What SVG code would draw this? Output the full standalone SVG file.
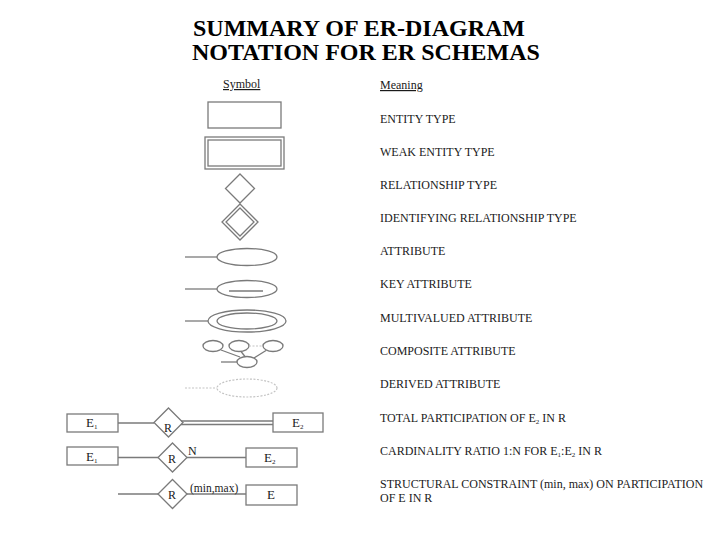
<svg xmlns="http://www.w3.org/2000/svg" width="728" height="546" viewBox="0 0 728 546">
<style>
.s{fill:none;stroke:#7a7a7a;stroke-width:1.3}
.d{fill:none;stroke:#c4c4c4;stroke-width:1.2;stroke-dasharray:2 1.5}
.t{font-family:"Liberation Serif","Times New Roman",serif;fill:#1a1a1a;font-size:12px}
.h{font-family:"Liberation Serif","Times New Roman",serif;fill:#000;font-size:24px;font-weight:bold}
.u{text-decoration:underline}
.e{font-family:"Liberation Serif","Times New Roman",serif;fill:#1a1a1a;font-size:13px}
.sb{font-size:7px}
</style>
<rect width="728" height="546" fill="#fff"/>
<g id="title">
<text class="h" x="193" y="36">SUMMARY OF ER-DIAGRAM</text>
<text class="h" x="192" y="60">NOTATION FOR ER SCHEMAS</text>
</g>
<g id="headers">
<text class="t u" x="223" y="88">Symbol</text>
<text class="t u" x="380" y="89">Meaning</text>
</g>
<g id="meanings">
<text class="t" x="380" y="123">ENTITY TYPE</text>
<text class="t" x="380" y="156">WEAK ENTITY TYPE</text>
<text class="t" x="380" y="189">RELATIONSHIP TYPE</text>
<text class="t" x="380" y="222">IDENTIFYING RELATIONSHIP TYPE</text>
<text class="t" x="380" y="255">ATTRIBUTE</text>
<text class="t" x="380" y="288">KEY ATTRIBUTE</text>
<text class="t" x="380" y="322">MULTIVALUED ATTRIBUTE</text>
<text class="t" x="380" y="355">COMPOSITE ATTRIBUTE</text>
<text class="t" x="380" y="388">DERIVED ATTRIBUTE</text>
<text class="t" x="380" y="422">TOTAL PARTICIPATION OF E<tspan class="sb" dy="2">2</tspan><tspan dy="-2"> IN R</tspan></text>
<text class="t" x="380" y="455">CARDINALITY RATIO 1:N FOR E<tspan class="sb" dy="2">1</tspan><tspan dy="-2">:E</tspan><tspan class="sb" dy="2">2</tspan><tspan dy="-2"> IN R</tspan></text>
<text class="t" x="380" y="488">STRUCTURAL CONSTRAINT (min, max) ON PARTICIPATION</text>
<text class="t" x="380" y="502">OF E IN R</text>
</g>
<g id="entity"><rect class="s" x="208" y="102" width="73" height="26"/></g>
<g id="weak-entity">
<rect class="s" x="205" y="137" width="79" height="32"/>
<rect class="s" x="208" y="140" width="73" height="26"/>
</g>
<g id="relationship"><polygon class="s" points="240,174 254.5,188.5 240,203 225.5,188.5"/></g>
<g id="identifying-relationship">
<polygon class="s" points="240,204 258,222 240,240 222,222"/>
<polygon class="s" points="240,208 254,222 240,236 226,222"/>
</g>
<g id="attribute"><ellipse class="s" cx="247" cy="257" rx="30" ry="8.5"/></g>
<g id="key-attribute">
<ellipse class="s" cx="247" cy="289" rx="30" ry="8.5"/>
<line class="s" x1="229" y1="291" x2="263" y2="291"/>
</g>
<g id="multivalued-attribute">
<ellipse class="s" cx="247" cy="321" rx="39" ry="11"/>
<ellipse class="s" cx="247" cy="321" rx="30" ry="8"/>
</g>
<g id="composite-attribute">
<ellipse class="s" cx="213" cy="346" rx="10" ry="5.5"/>
<ellipse class="s" cx="239" cy="346" rx="10" ry="5.5"/>
<ellipse class="s" cx="273" cy="346" rx="10" ry="5.5"/>
<ellipse class="s" cx="247" cy="362" rx="10" ry="5.5"/>
</g>
<g id="derived-attribute"><ellipse class="d" cx="247" cy="388" rx="30" ry="9"/></g>
<g id="row1-e1"><rect class="s" x="67" y="414" width="51" height="18"/><text class="e" x="86" y="427">E<tspan class="sb" dy="2">1</tspan></text></g>
<g id="row1-r"><polygon class="s" points="168.5,408 183,422.5 168.5,437 154,422.5"/><text class="t" x="164" y="432">R</text></g>
<g id="row1-e2"><rect class="s" x="273" y="413" width="50" height="19"/><text class="e" x="292" y="427">E<tspan class="sb" dy="2">2</tspan></text></g>
<g id="row2-e1"><rect class="s" x="67" y="447" width="51" height="18"/><text class="e" x="86" y="461">E<tspan class="sb" dy="2">1</tspan></text></g>
<g id="row2-r"><polygon class="s" points="172.5,443 187,457.5 172.5,472 158,457.5"/><text class="t" x="168" y="463">R</text></g>
<g id="row2-e2"><rect class="s" x="246" y="448" width="51" height="19"/><text class="e" x="264" y="462">E<tspan class="sb" dy="2">2</tspan></text></g>
<g id="row3-r"><polygon class="s" points="172.5,479.5 187,494 172.5,508.5 158,494"/><text class="t" x="168" y="499">R</text></g>
<g id="row3-e"><rect class="s" x="246" y="485" width="51" height="20"/><text class="e" x="267" y="499">E</text></g>
<g id="connectors">
<line class="s" x1="185" y1="257" x2="217" y2="257"/>
<line class="s" x1="185" y1="289" x2="217" y2="289"/>
<line class="s" x1="185" y1="321" x2="208" y2="321"/>
<line class="s" x1="221" y1="350" x2="240" y2="357"/>
<line class="s" x1="241" y1="351.5" x2="245" y2="356.5"/>
<line class="s" x1="266" y1="350.5" x2="254" y2="358"/>
<line class="d" x1="249" y1="346" x2="263" y2="346"/>
<line class="s" x1="221" y1="362" x2="237" y2="362"/>
<line class="d" x1="185" y1="388" x2="217" y2="388"/>
<line class="s" x1="118" y1="423" x2="154" y2="423"/>
<line class="s" x1="181" y1="421" x2="273" y2="421"/>
<line class="s" x1="181" y1="424.5" x2="273" y2="424.5"/>
<line class="s" x1="118" y1="457.5" x2="158" y2="457.5"/>
<line class="s" x1="187" y1="457.5" x2="246" y2="457.5"/>
<line class="s" x1="118" y1="494" x2="158" y2="494"/>
<line class="s" x1="187" y1="494" x2="246" y2="494"/>
</g>
<g id="labels">
<text class="t" x="188" y="455">N</text>
<text class="t" x="190" y="492" style="font-size:11.5px">(min,max)</text>
</g>
</svg>
